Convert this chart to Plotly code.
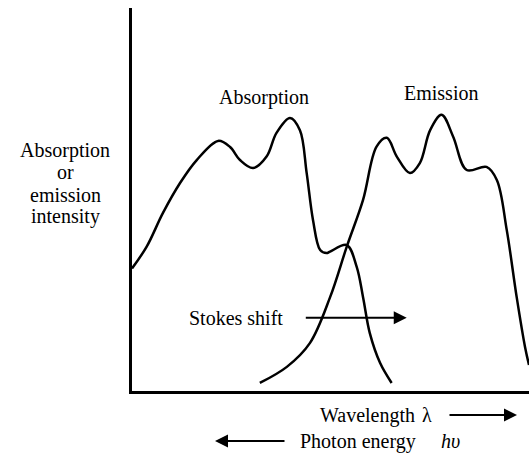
import plotly.graph_objects as go

# Schematic spectra (arbitrary units: wavelength 0-100, intensity 0-100)
abs_x = [0, 3.7, 7.8, 12.1, 16.3, 21.7, 24.7, 27.2, 30.5, 33.9, 36.4, 39.8, 42.3, 44.0,
         45.6, 47.4, 49.0, 49.9, 54.1, 56.6, 58.2, 59.9, 62.5, 65.4]
abs_y = [32.0, 37.7, 46.5, 54.3, 60.3, 65.3, 63.7, 60.3, 58.2, 61.2, 67.4, 71.3, 68.1, 56.9,
         44.6, 36.8, 36.0, 36.4, 38.1, 32.4, 24.5, 15.1, 7.3, 2.1]

emi_x = [32.2, 39.0, 44.8, 49.9, 54.1, 58.2, 61.6, 64.2, 66.7, 70.0, 72.5, 75.1, 78.0,
         80.9, 84.3, 89.3, 91.9, 94.4, 96.9, 99.0, 100]
emi_y = [2.1, 6.3, 12.5, 24.5, 37.7, 49.9, 63.8, 66.1, 61.2, 56.9, 59.5, 68.1, 72.1,
         66.4, 57.7, 58.5, 55.1, 42.0, 24.5, 11.5, 6.8]

stokes_start = (43.4, 19.1)
stokes_end = (69.2, 19.1)

ylabel_lines = ["Absorption", "or", "emission", "intensity"]

W, H = 529, 462
L, R, T, B = 132, 0, 8, 71
PW, PH = W - L - R, H - T - B

def px(x):
    return (x - L) / PW

def py(y):
    return (H - B - y) / PH

FONT = "Liberation Serif, Times New Roman, serif"
FS = 20

fig = go.Figure()
fig.add_trace(go.Scatter(x=abs_x, y=abs_y, mode="lines",
                         line=dict(color="black", width=2.5, shape="spline", smoothing=1.0),
                         hoverinfo="skip", showlegend=False, cliponaxis=False))
fig.add_trace(go.Scatter(x=emi_x, y=emi_y, mode="lines",
                         line=dict(color="black", width=2.5, shape="spline", smoothing=1.0),
                         hoverinfo="skip", showlegend=False, cliponaxis=False))

XD, YD = "x domain", "y domain"

def label(x, y, text, xanchor="center", size=FS):
    return dict(x=px(x), y=py(y), xref=XD, yref=YD, text=text, showarrow=False,
                xanchor=xanchor, yanchor="middle",
                font=dict(family=FONT, size=size, color="black"))

def arrow(x0, y0, x1, y1):
    return dict(x=px(x1), y=py(y1), ax=px(x0), ay=py(y0), xref=XD, yref=YD,
                axref=XD, ayref=YD, text="", showarrow=True,
                arrowhead=2, arrowsize=1.3, arrowwidth=2, arrowcolor="black")

ann = []
ann.append(dict(x=stokes_end[0], y=stokes_end[1], ax=stokes_start[0], ay=stokes_start[1],
                xref="x", yref="y", axref="x", ayref="y", text="", showarrow=True,
                arrowhead=2, arrowsize=1.3, arrowwidth=2, arrowcolor="black"))
ann.append(label(236, 318, "Stokes shift"))
ann.append(label(264, 97, "Absorption"))
ann.append(label(441, 93, "Emission"))
for i, t in enumerate(ylabel_lines):
    ann.append(label(65, 150 + 22.3 * i, t))
ann.append(label(318, 415, "Wavelength", xanchor="left"))
ann.append(label(427, 415, "λ"))
ann.append(arrow(448, 415, 517, 415))
ann.append(label(298, 441, "Photon energy", xanchor="left"))
ann.append(label(450, 441, "<i>hυ</i>"))
ann.append(arrow(286, 441, 215, 441))

fig.update_layout(
    width=W, height=H,
    margin=dict(l=L, r=R, t=T, b=B),
    paper_bgcolor="white", plot_bgcolor="white",
    annotations=ann,
    xaxis=dict(range=[0, 100], showgrid=False, zeroline=False, showticklabels=False,
               ticks="", showline=True, linecolor="black", linewidth=2.5, fixedrange=True),
    yaxis=dict(range=[0, 100], showgrid=False, zeroline=False, showticklabels=False,
               ticks="", showline=True, linecolor="black", linewidth=2.5, fixedrange=True),
)

fig.write_html("out.html", config={"displayModeBar": False})
